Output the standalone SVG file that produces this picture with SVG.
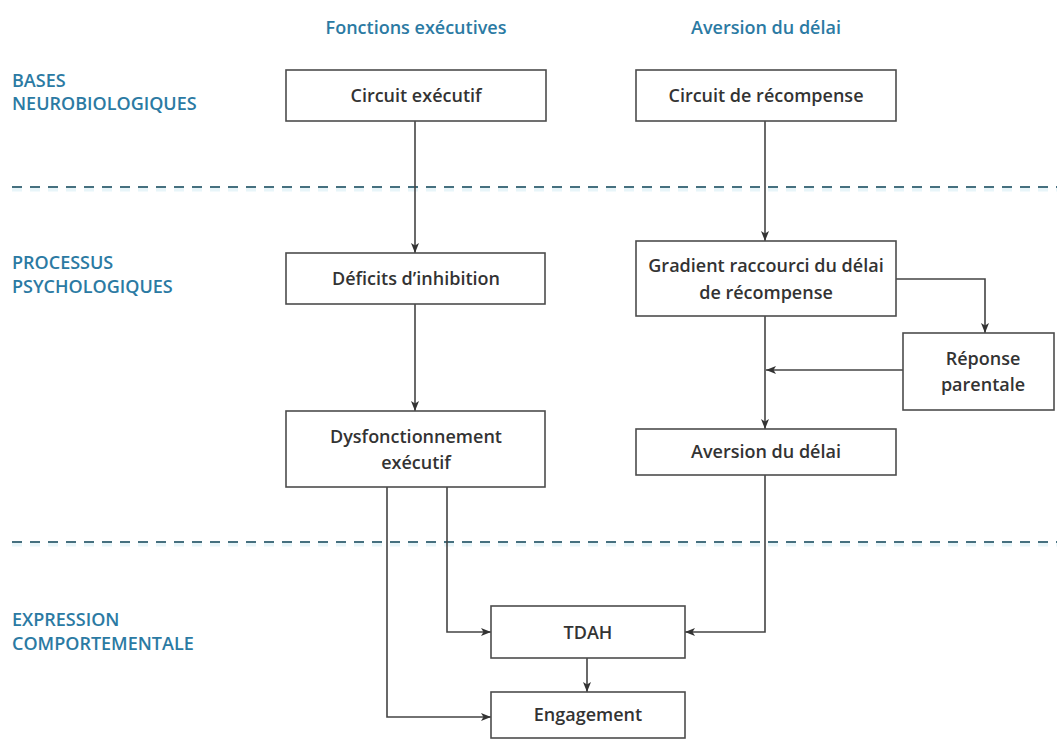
<svg xmlns="http://www.w3.org/2000/svg" width="1057" height="740" viewBox="0 0 1057 740">
  <style>
    .bg { fill: #ffffff; }
    .box { fill: #ffffff; stroke: #4d4d4d; stroke-width: 1.6; }
    .txt { font-family: "Open Sans", "Liberation Sans", sans-serif; font-weight: 600; font-size: 18px; fill: #333333; text-anchor: middle; }
    .head { font-family: "Open Sans", "Liberation Sans", sans-serif; font-weight: 600; font-size: 18px; fill: #2b7aa3; text-anchor: middle; }
    .lvl { font-family: "Open Sans", "Liberation Sans", sans-serif; font-weight: 600; font-size: 18px; fill: #2b7aa3; }
    .sep { stroke: #46707f; stroke-width: 2; stroke-dasharray: 10 8; fill: none; }
    .sep-glow { stroke: #d8eef5; stroke-width: 5; stroke-dasharray: 10 8; fill: none; opacity: 0.6; }
    .edge { stroke: #444444; stroke-width: 1.6; fill: none; marker-end: url(#arrow); }
  </style>
  <defs>
    <marker id="arrow" viewBox="0 0 10 8" refX="10" refY="4" markerWidth="10" markerHeight="8" markerUnits="userSpaceOnUse" orient="auto">
      <path d="M0,0 L10,4 L0,8 L2.5,4 Z" fill="#333333"/>
    </marker>
  </defs>

  <rect class="bg" x="0" y="0" width="1057" height="740"/>

  <!-- column headings -->
  <g id="headings">
    <text class="head" x="416" y="34">Fonctions exécutives</text>
    <text class="head" x="766" y="34">Aversion du délai</text>
  </g>

  <!-- level labels -->
  <g id="levels">
    <text class="lvl" x="12" y="87">BASES</text>
    <text class="lvl" x="12" y="110">NEUROBIOLOGIQUES</text>
    <text class="lvl" x="12" y="269">PROCESSUS</text>
    <text class="lvl" x="12" y="293">PSYCHOLOGIQUES</text>
    <text class="lvl" x="12" y="626">EXPRESSION</text>
    <text class="lvl" x="12" y="650">COMPORTEMENTALE</text>
  </g>

  <!-- level separators -->
  <g id="separators">
    <line class="sep-glow" x1="12" y1="189" x2="1057" y2="189"/>
    <line class="sep" x1="12" y1="187" x2="1057" y2="187"/>
    <line class="sep-glow" x1="12" y1="544" x2="1057" y2="544"/>
    <line class="sep" x1="12" y1="542" x2="1057" y2="542"/>
  </g>

  <!-- connectors -->
  <g id="connectors">
    <path class="edge" d="M415,121 V253"/>
    <path class="edge" d="M415,304 V411"/>
    <path class="edge" d="M765,121 V241"/>
    <path class="edge" d="M896,279 H985 V333"/>
    <path class="edge" d="M765,316 V429"/>
    <path class="edge" d="M903,370 H766"/>
    <path class="edge" d="M447,487 V632 H491"/>
    <path class="edge" d="M387,487 V717 H491"/>
    <path class="edge" d="M765,475 V632 H685"/>
    <path class="edge" d="M587,658 V692"/>
  </g>

  <!-- nodes -->
  <g id="circuit-executif">
    <rect class="box" x="286" y="70" width="260" height="51"/>
    <text class="txt" x="416" y="102">Circuit exécutif</text>
  </g>
  <g id="circuit-recompense">
    <rect class="box" x="636" y="70" width="260" height="51"/>
    <text class="txt" x="766" y="102">Circuit de récompense</text>
  </g>
  <g id="deficits-inhibition">
    <rect class="box" x="286" y="253" width="259" height="51"/>
    <text class="txt" x="416" y="285">Déficits d’inhibition</text>
  </g>
  <g id="gradient">
    <rect class="box" x="636" y="241" width="260" height="75"/>
    <text class="txt" x="766" y="272">Gradient raccourci du délai</text>
    <text class="txt" x="766" y="299">de récompense</text>
  </g>
  <g id="reponse-parentale">
    <rect class="box" x="903" y="333" width="151" height="77"/>
    <text class="txt" x="983" y="365">Réponse</text>
    <text class="txt" x="983" y="391">parentale</text>
  </g>
  <g id="dysfonctionnement">
    <rect class="box" x="286" y="411" width="259" height="76"/>
    <text class="txt" x="416" y="443">Dysfonctionnement</text>
    <text class="txt" x="416" y="469">exécutif</text>
  </g>
  <g id="aversion-delai">
    <rect class="box" x="636" y="429" width="260" height="46"/>
    <text class="txt" x="766" y="458">Aversion du délai</text>
  </g>
  <g id="tdah">
    <rect class="box" x="491" y="606" width="194" height="52"/>
    <text class="txt" x="588" y="639">TDAH</text>
  </g>
  <g id="engagement">
    <rect class="box" x="491" y="692" width="194" height="46"/>
    <text class="txt" x="588" y="721">Engagement</text>
  </g>
</svg>
